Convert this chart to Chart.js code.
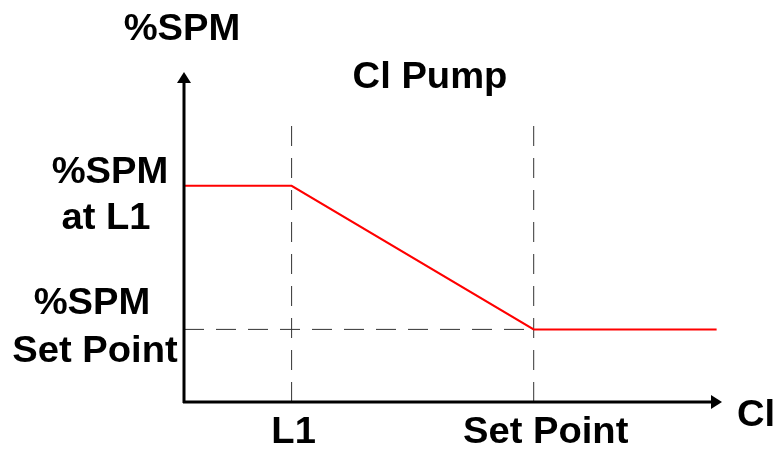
<!DOCTYPE html>
<html>
<head>
<meta charset="utf-8">
<script src="https://cdn.jsdelivr.net/npm/chart.js@4/dist/chart.umd.min.js"></script>
<style>
  html, body { margin: 0; padding: 0; background: #fff; }
</style>
</head>
<body>
<canvas id="chart" width="774" height="450"></canvas>
<script>
// pump curve (x = Cl, y = %SPM), axis range 0..100
const pumpX = [0, 20, 65, 99];
const pumpY = [65.5, 65.5, 22, 22];

// marks on the Cl axis
const markNames = ['L1', 'Set Point'];
const markX = [20, 65];
const markTop = 84;

// levels on the %SPM axis
const levelNames = [['%SPM', 'at L1'], ['%SPM', 'Set Point']];
const levelY = [65.5, 22];

const xTitle = 'Cl';
const yTitle = '%SPM';
const chartTitle = 'Cl Pump';

const FONT = 'bold 36px "Liberation Sans", Arial, sans-serif';
const STRETCH = 1.06;

function drawText(ctx, s, cx, base, align) {
  ctx.save();
  ctx.translate(cx, base);
  ctx.scale(STRETCH, 1);
  ctx.font = FONT;
  ctx.fillStyle = '#000';
  ctx.textAlign = align || 'center';
  ctx.textBaseline = 'alphabetic';
  ctx.fillText(s, 0, 0);
  ctx.restore();
}

const dashStyle = { borderColor: '#333', borderWidth: 1, borderDash: [20, 12], pointRadius: 0, clip: false };

const datasets = [
  {
    label: 'pump',
    data: pumpX.map((x, i) => ({ x: x, y: pumpY[i] })),
    borderColor: '#ff0000',
    borderWidth: 2,
    pointRadius: 0,
    clip: false
  },
  // vertical guides at L1 and Set Point
  ...markX.map(x => Object.assign({ data: [{ x: x, y: 0 }, { x: x, y: markTop }] }, dashStyle)),
  // horizontal guide at set point level
  Object.assign({ data: [{ x: 0, y: levelY[1] }, { x: markX[1], y: levelY[1] }] }, dashStyle)
];

// axes with arrows plus all the labels
const sketchPlugin = {
  id: 'sketch',
  afterDatasetsDraw(chart) {
    const ctx = chart.ctx;
    const xs = chart.scales.x, ys = chart.scales.y;
    const x0 = xs.getPixelForValue(0), x1 = xs.getPixelForValue(100);
    const y0 = ys.getPixelForValue(0), y1 = ys.getPixelForValue(100);

    ctx.save();
    ctx.strokeStyle = '#000';
    ctx.fillStyle = '#000';
    ctx.lineWidth = 3;
    ctx.beginPath();
    ctx.moveTo(x0, y0 + 1);
    ctx.lineTo(x0, y1 + 8);
    ctx.moveTo(x0 - 1, y0);
    ctx.lineTo(x1 - 8, y0);
    ctx.stroke();
    // arrow heads
    ctx.beginPath();
    ctx.moveTo(x0, y1);
    ctx.lineTo(x0 - 7, y1 + 11);
    ctx.lineTo(x0 + 7, y1 + 11);
    ctx.closePath();
    ctx.fill();
    ctx.beginPath();
    ctx.moveTo(x1, y0);
    ctx.lineTo(x1 - 11, y0 - 7);
    ctx.lineTo(x1 - 11, y0 + 7);
    ctx.closePath();
    ctx.fill();
    ctx.restore();

    // titles
    drawText(ctx, yTitle, x0 - 2, 40);
    drawText(ctx, chartTitle, 430, 88);
    drawText(ctx, xTitle, x1 + 15, y0 + 24, 'left');

    // Cl axis marks
    markNames.forEach((n, i) => {
      drawText(ctx, n, xs.getPixelForValue(markX[i]) + (i ? 12 : 2), y0 + 41);
    });

    // %SPM levels
    const hi = ys.getPixelForValue(levelY[0]);
    drawText(ctx, levelNames[0][0], 110, hi - 3);
    drawText(ctx, levelNames[0][1], 106, hi + 43);
    const lo = ys.getPixelForValue(levelY[1]);
    drawText(ctx, levelNames[1][0], 92, lo - 15);
    drawText(ctx, levelNames[1][1], 95, lo + 33);
  }
};

new Chart(document.getElementById('chart'), {
  type: 'line',
  data: { datasets: datasets },
  options: {
    responsive: false,
    animation: false,
    devicePixelRatio: 1,
    layout: { padding: { left: 184, right: 52, top: 72, bottom: 48 } },
    plugins: { legend: { display: false }, tooltip: { enabled: false }, title: { display: false } },
    scales: {
      x: { type: 'linear', min: 0, max: 100, display: false },
      y: { type: 'linear', min: 0, max: 100, display: false }
    }
  },
  plugins: [sketchPlugin]
});
</script>
</body>
</html>
